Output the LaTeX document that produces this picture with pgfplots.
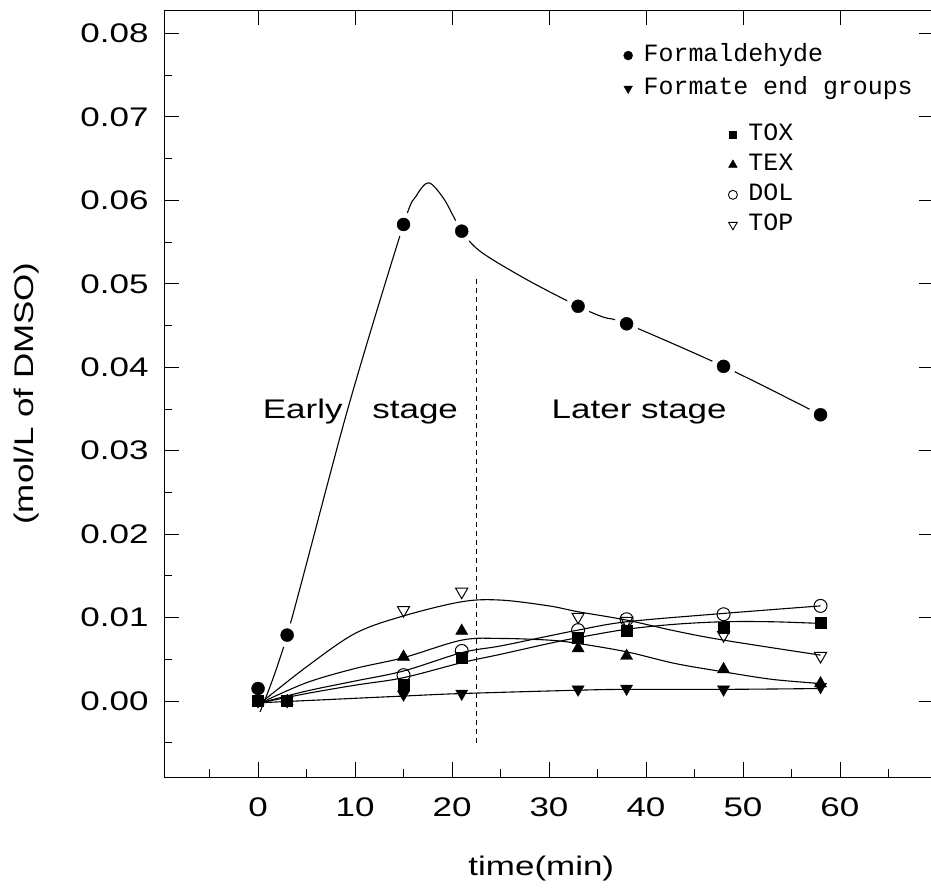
\documentclass[border=0pt]{standalone}
\usepackage{fontspec}
\setmainfont{Liberation Sans}[FakeStretch=1.3]
\newfontfamily\legfont{Liberation Mono}
\usepackage{pgfplots}
\pgfplotsset{compat=1.18}

\begin{document}
\begin{tikzpicture}
\pgfplotsset{
  base/.style={
    scale only axis, width=770bp, height=767bp,
    xmin=-9.7, xmax=69.7, ymin=-0.0091, ymax=0.0828,
    axis line style={line width=0.9bp},
    tick style={line width=0.8bp, black},
  },
  legbase/.style={
    legend cell align=left,
    legend style={draw=none, fill=none, inner sep=0pt, outer sep=0pt,
      font=\legfont\fontsize{25}{28}\selectfont,
      nodes={inner sep=0pt, text height=16bp, text depth=5bp},
      /tikz/every odd column/.append style={column sep=11bp}},
  },
}
\begin{axis}[base, legbase,
  xtick={0,10,20,30,40,50,60},
  ytick={0,0.01,0.02,0.03,0.04,0.05,0.06,0.07,0.08},
  major tick length=15bp,
  scaled y ticks=false,
  /pgf/number format/assume math mode=true,
  yticklabel style={/pgf/number format/fixed, /pgf/number format/fixed zerofill,
    /pgf/number format/precision=2, xshift=-12bp},
  xticklabel style={yshift=-17bp},
  tick label style={font=\fontsize{27}{32}\selectfont},
  label style={font=\fontsize{27}{32}\selectfont},
  xlabel={time(min)}, ylabel={(mol/L of DMSO)},
  xlabel style={at={(axis description cs:0.49,-0.119)}, anchor=center},
  ylabel style={at={(axis description cs:-0.178,0.5)}, anchor=center},
  legend style={at={(axis cs:37.7,0.0786)}, anchor=north west, row sep=12bp},
]
% ---- smooth curves ----
\addplot[forget plot, black, line width=1.1bp, smooth, tension=0.55] coordinates {
 (0.3,-0.0002) (5,0.0041) (10,0.0081) (15,0.0102) (21,0.0119) (25,0.0121) (30,0.0114)
 (33,0.0107) (38,0.0097) (43,0.0084) (48,0.0073) (58,0.0055)};
\addplot[forget plot, black, line width=1.1bp, smooth, tension=0.55] coordinates {
 (0.3,-0.0002) (5,0.0022) (10,0.0039) (15,0.0052) (21,0.0073) (25,0.0075) (30,0.0073)
 (33,0.0069) (38,0.0059) (43,0.0045) (48,0.0035) (53,0.0026) (58,0.0021)};
\addplot[forget plot, black, line width=1.1bp, smooth, tension=0.55] coordinates {
 (0.3,-0.0002) (5,0.0012) (10,0.0024) (15,0.0036) (21,0.0058) (25,0.0066) (30,0.0078)
 (33,0.0085) (38,0.0095) (48,0.0105) (58,0.0114)};
\addplot[forget plot, black, line width=1.1bp, smooth, tension=0.55] coordinates {
 (0.3,-0.0002) (5,0.0009) (10,0.0019) (15,0.0028) (21,0.0046) (25,0.0056) (30,0.0069)
 (33,0.0076) (38,0.0086) (43,0.0092) (48,0.0095) (53,0.0095) (58,0.0093)};
\addplot[forget plot, black, line width=1.1bp, smooth, tension=0.55] coordinates {
 (0.3,-0.0002) (15,0.0006) (21,0.0009) (33,0.0013) (38,0.0014) (48,0.0014) (58,0.0015)};
\addplot[forget plot, black, line width=1.1bp, smooth, tension=0.5] coordinates {
 (0.2,-0.0013) (3,0.0079) (9.3,0.0352) (15,0.0571) (16.3,0.0605) (17.6,0.0621)
 (19.2,0.0601) (21,0.0563) (23,0.0538) (27.7,0.0505) (33,0.0473) (35.6,0.0460)
 (38,0.0452) (48,0.0401) (58,0.0343)};
% dashed stage divider
\addplot[forget plot, black, line width=1bp, dash pattern=on 5bp off 4bp] coordinates {(22.5,0.0506) (22.5,-0.0050)};
% white halos around formaldehyde markers
\addplot[forget plot, only marks, mark=*, mark size=12bp, mark options={draw=white, fill=white}] coordinates {
 (3,0.0079) (15,0.0571) (21,0.0563) (33,0.0473) (38,0.0452) (48,0.0401) (58,0.0343)};
% ---- data markers ----
\addplot[forget plot, only marks, mark=triangle, mark size=7bp, mark options={rotate=180, fill=white, line width=1bp}] coordinates {
 (15,0.0109) (21,0.0131) (33,0.0101) (38,0.0096) (48,0.0079) (58,0.0054)};
\addplot[forget plot, only marks, mark=o, mark size=6.5bp, mark options={fill=white, line width=1bp}] coordinates {
 (15,0.0031) (21,0.0060) (33,0.0085) (38,0.0098) (48,0.0104) (58,0.0114)};
\addplot[forget plot, only marks, mark=square*, mark size=5.5bp] coordinates {
 (0,0) (3,0) (15,0.0020) (21,0.0052) (33,0.0076) (38,0.0084) (48,0.0088) (58,0.0094)};
\addplot[forget plot, only marks, mark=triangle*, mark size=7bp] coordinates {
 (0,0) (3,0) (15,0.0053) (21,0.0084) (33,0.0063) (38,0.0054) (48,0.0038) (58,0.0021)};
\addplot[forget plot, only marks, mark=triangle*, mark size=7bp, mark options={rotate=180}] coordinates {
 (0,0) (3,0) (15,0.0008) (21,0.0009) (33,0.0014) (38,0.0015) (48,0.0014) (58,0.0017)};
\addplot[forget plot, only marks, mark=*, mark size=6.5bp] coordinates {
 (0,0.0015) (3,0.0079) (15,0.0571) (21,0.0563) (33,0.0473) (38,0.0452) (48,0.0401) (58,0.0343)};
% stage labels
\node[anchor=base, font=\fontsize{27}{32}\selectfont] at (axis cs:4.6,0.0338) {Early};
\node[anchor=base, font=\fontsize{27}{32}\selectfont] at (axis cs:16.2,0.0338) {stage};
\node[anchor=base, font=\fontsize{27}{32}\selectfont] at (axis cs:39.3,0.0338) {Later stage};
% legend (first group)
\addlegendimage{only marks, mark=*, mark size=4.5bp}
\addlegendentry{Formaldehyde}
\addlegendimage{only marks, mark=triangle*, mark size=5bp, mark options={rotate=180}}
\addlegendentry{Formate end groups}
\end{axis}
% overlay: minor ticks on bottom/left and second legend group
\begin{axis}[base, legbase,
  xtick={-5,5,15,25,35,45,55,65},
  ytick={-0.005,0.005,0.015,0.025,0.035,0.045,0.055,0.065,0.075},
  xticklabels={}, yticklabels={},
  xtick pos=left, ytick pos=left,
  major tick length=8bp,
  legend style={at={(axis cs:48.5,0.0691)}, anchor=north west, row sep=9bp},
]
\addlegendimage{only marks, mark=square*, mark size=3.5bp}
\addlegendentry{TOX}
\addlegendimage{only marks, mark=triangle*, mark size=5bp}
\addlegendentry{TEX}
\addlegendimage{only marks, mark=o, mark size=4.5bp, mark options={line width=0.9bp}}
\addlegendentry{DOL}
\addlegendimage{only marks, mark=triangle, mark size=5bp, mark options={rotate=180, line width=0.9bp}}
\addlegendentry{TOP}
\end{axis}
\pgfresetboundingbox
\path ([xshift=-164bp,yshift=-119bp]current axis.south west) rectangle ++(931bp,896bp);
\end{tikzpicture}
\end{document}
